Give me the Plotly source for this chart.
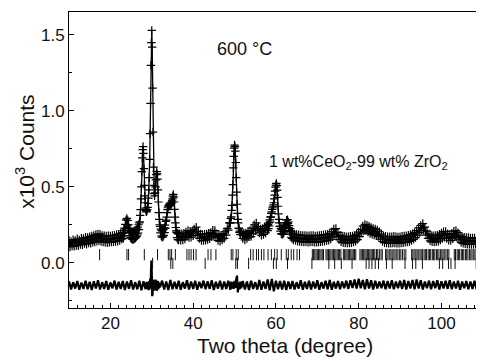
import numpy as np
import plotly.graph_objects as go

# ---------------- observed pattern (x10^3 counts), segments of the 2-theta scan ----------------
obs_a_start, obs_a_step = 10.0, 0.25
obs_a = [.148, .104, .140, .110, .152, .108, .146, .114, .158, .112, .150, .120, .162, .118, .160, .126,
         .168, .122, .166, .130, .172, .128, .176, .134, .180, .136, .186, .142, .190, .144, .188, .140,
         .180, .136, .178, .134, .176, .132, .178, .134, .176, .136, .180, .138, .182, .140, .186, .142,
         .188, .146, .194, .156]

obs_b_start, obs_b_step = 23.0, 0.1
obs_b = [.198, .160, .212, .176, .228, .195, .252, .225, .282, .250,
         .292, .248, .278, .225, .250, .198, .228, .178, .212, .165,
         .205, .158, .200, .155, .198, .152, .200, .156, .204, .160,
         .208, .165, .214, .172, .222, .182, .235, .195, .250, .218,
         .262, .270, .312, .350, .420, .500, .600, .690, .745, .765,
         .720, .620, .510, .440, .395, .360, .345, .335, .340, .350,
         .365, .390, .425, .480, .560, .680, .850, 1.050, 1.300, 1.450,
         1.530, 1.420, 1.150, .860, .630, .510, .455, .440, .460, .500,
         .545, .580, .600, .585, .550, .480, .400, .330, .285, .250,
         .240, .196, .222, .176, .212, .168, .210, .170, .218, .180,
         .230, .198, .248, .228, .272, .280, .300, .330, .350, .362,
         .375, .372, .385, .378, .392, .384, .380, .388, .395, .408,
         .420, .438, .450, .432, .400, .352, .300, .262, .232, .210,
         .200, .165, .195, .152, .190]

obs_c_start, obs_c_step = 36.5, 0.25
obs_c = [.150, .192, .148, .192, .150, .194, .156, .202, .172, .212,
         .166, .208, .168, .210, .178, .222, .196, .234, .180, .206,
         .160, .190, .146, .186, .146, .188, .148, .190, .152, .194,
         .158, .200, .170, .214, .176, .212, .166, .190, .146, .184,
         .142, .182, .150, .192, .160, .204, .182, .226, .215, .262]

obs_d_start, obs_d_step = 48.9, 0.1
obs_d = [.262, .262, .292, .302, .345, .378, .445, .515, .625, .700,
         .755, .775, .765, .735, .660, .560, .465, .385, .325, .285,
         .262, .228, .225, .200, .208, .185, .198]

obs_e_start, obs_e_step = 51.75, 0.25
obs_e = [.202, .160, .194, .150, .196, .160, .206, .170, .212, .172,
         .228, .190, .250, .210, .262, .222, .238, .196, .222, .180,
         .226, .186, .236, .196, .244]

obs_f_start, obs_f_step = 57.9, 0.1
obs_f = [.245, .212, .252, .225, .262, .242, .282, .268, .302, .300, .325,
         .335, .352, .362, .372, .382, .395, .420, .445, .472, .498,
         .512, .522, .508, .478, .430, .372, .322, .285, .262, .240,
         .240, .208, .226, .192, .220, .186, .222, .190, .226, .196,
         .232, .212, .248, .232, .262, .250, .280, .262, .284, .258,
         .268, .230, .244, .205, .225, .186, .210, .168, .204, .160]

obs_g_start, obs_g_step = 64.0, 0.25
obs_g = [.195, .150, .190, .146, .186, .142, .184, .140, .182, .138, .180, .136,
         .180, .138, .178, .134, .178, .136, .180, .138, .180, .135, .176, .134,
         .178, .136, .180, .138, .182, .140, .184, .142, .186, .146, .188, .148,
         .194, .156, .204, .170, .222, .185, .225, .172, .200, .152, .182, .138,
         .176, .132, .174, .130, .172, .130, .172, .130, .174, .132, .176, .136,
         .180, .142, .188, .152, .202, .172, .220, .195, .242, .210, .252, .212,
         .248, .202, .240, .192, .232, .188, .226, .182, .222, .178, .216, .172,
         .204, .156, .188, .140, .176, .132, .174, .130, .172, .128, .172, .128,
         .172, .130, .174, .130, .172, .128, .170, .128, .172, .130, .174, .132,
         .176, .134, .178, .136, .182, .140, .186, .146, .192, .154, .200, .166,
         .212, .182, .230, .198, .246, .214, .258, .212, .234, .182, .208, .160,
         .190, .144, .180, .138, .178, .136, .180, .138, .182, .142, .188, .150,
         .196, .160, .205, .168, .206, .160, .192, .148, .186, .146, .194, .158,
         .208, .170, .212, .166, .198, .150, .182, .134, .172, .128, .168, .124,
         .166, .122, .166, .122, .164, .120, .164, .120, .164, .122, .166, .120,
         .164, .120, .162]

# ---------------- difference curve (obs - calc, offset) ----------------
diff_a_start, diff_a_step = 10.0, 0.5
diff_a = [-.122, -.176, -.128, -.170, -.120, -.178, -.130, -.172, -.118, -.174,
          -.126, -.180, -.122, -.170, -.116, -.176, -.128, -.172, -.120, -.178,
          -.130, -.168, -.118, -.176, -.126, -.172, -.120, -.180, -.124, -.172,
          -.116, -.176, -.128, -.174, -.118, -.182, -.122, -.174]
diff_b_start, diff_b_step = 28.6, 0.1
diff_b = [-.130, -.168, -.125, -.172, -.135, -.175, -.128, -.180, -.120, -.175,
          -.105, -.170, -.060, .015, -.060, -.220, -.205, -.110, -.185, -.115,
          -.180, -.120, -.175, -.110, -.178, -.115, -.185, -.125, -.170, -.120,
          -.175, -.130, -.165, -.135, -.160]
diff_c_start, diff_c_step = 32.5, 0.5
diff_c = [-.118, -.176, -.124, -.180, -.114, -.174, -.126, -.172, -.118, -.178,
          -.128, -.170, -.116, -.176, -.124, -.172, -.118, -.178, -.126, -.168,
          -.118, -.174, -.122, -.172, -.116, -.180, -.126, -.170, -.118, -.176,
          -.124, -.172, -.118, -.178]
diff_d_start, diff_d_step = 49.2, 0.2
diff_d = [-.125, -.170, -.128, -.172, -.120, -.165, -.110, -.085, -.195, -.130,
          -.175, -.125, -.168, -.135]
diff_e_start, diff_e_step = 52.0, 0.5
diff_e = [-.120, -.176, -.124, -.180, -.118, -.172, -.128, -.176, -.114, -.178,
          -.124, -.172, -.110, -.182, -.106, -.188, -.118, -.174, -.120, -.176,
          -.118, -.180, -.124, -.172, -.120, -.176, -.128, -.170, -.116, -.178,
          -.126, -.172, -.118, -.176, -.124, -.170, -.116, -.178, -.128, -.170,
          -.118, -.174, -.114, -.178, -.126, -.170, -.120, -.174, -.124, -.168,
          -.118, -.172, -.116, -.166, -.110, -.170, -.106, -.168, -.114, -.174,
          -.108, -.170, -.116, -.176, -.118, -.170, -.124, -.168, -.118, -.174,
          -.120, -.170, -.116, -.174, -.124, -.168, -.118, -.172, -.114, -.176,
          -.120, -.170, -.114, -.174, -.110, -.170, -.116, -.176, -.124, -.168,
          -.118, -.174, -.120, -.168, -.116, -.176, -.122, -.170, -.118, -.172,
          -.116, -.174, -.124, -.170, -.118, -.178, -.124, -.168, -.120, -.174,
          -.124, -.172, -.118, -.176, -.126, -.170]

# ---------------- Bragg reflection positions (2-theta) ----------------
bragg_row1 = [17.4, 24.0, 24.4, 28.2, 31.4, 34.0, 34.4, 34.8, 35.7, 38.5, 39.0, 39.5, 40.1, 40.7,
              43.6, 44.3, 45.5, 49.2, 49.6, 50.4, 50.9, 53.9, 54.5, 55.3, 55.8, 56.5, 57.1,
              58.1, 58.9, 59.7, 60.3, 61.3, 62.5, 63.0, 63.7, 64.3, 65.1, 65.7,
              68.8, 69.1, 69.4, 69.7, 70.0, 70.3, 70.6, 70.9, 71.2, 71.5, 72.1, 72.4, 72.7,
              73.0, 73.3, 73.6, 73.9, 74.2, 74.5, 74.8, 75.1, 75.4, 75.7, 76.3, 76.6, 76.9,
              77.2, 77.5, 77.8, 78.1, 78.4, 78.7, 79.0, 79.3,
              80.3, 80.6, 80.9, 81.2, 81.5, 81.8, 82.1, 82.4, 82.7, 83.0, 83.3, 83.6, 83.9,
              84.3, 84.6, 85.0, 85.4, 85.7,
              86.5, 86.8, 87.1, 87.5, 87.8, 88.1, 88.5, 88.8, 89.2, 89.5, 89.9, 90.2, 90.6,
              91.0, 91.4,
              92.8, 93.1, 93.4, 93.8, 94.1, 94.4, 94.8, 95.1, 95.4, 95.8, 96.1, 96.4, 96.8,
              97.1, 97.4, 97.8, 98.1, 98.4, 98.8, 99.1, 99.4, 99.8, 100.1, 100.4, 100.8,
              101.1, 101.5, 101.8,
              103.1, 103.4, 103.8, 104.1, 104.4, 104.8, 105.1, 105.4, 105.8, 106.1, 106.4,
              106.8, 107.1, 107.4, 107.8, 108.1, 108.4, 108.8, 109.1, 109.4, 109.7]
bragg_row2 = [30.2, 34.6, 35.1, 42.9, 50.3, 50.7, 53.4, 59.4, 60.1, 62.8, 68.7, 72.8, 74.2, 75.8,
              78.4, 81.8, 82.5, 83.2, 84.0, 84.8, 86.7, 88.1, 91.2, 93.0, 93.8, 95.4, 99.5,
              100.3, 101.7, 102.3, 103.3, 108.4]
bragg_row1_level = 0.053
bragg_row2_level = -0.004

x_ticks = [20, 40, 60, 80, 100]
y_ticks = [0.0, 0.5, 1.0, 1.5]


def build(segments):
    xs, ys = [], []
    for start, step, vals in segments:
        xs.append(np.round(start + step * np.arange(len(vals)), 3))
        ys.append(np.asarray(vals, dtype=float))
    return np.concatenate(xs), np.concatenate(ys)


tt_obs, counts_obs = build([(obs_a_start, obs_a_step, obs_a), (obs_b_start, obs_b_step, obs_b),
                            (obs_c_start, obs_c_step, obs_c), (obs_d_start, obs_d_step, obs_d),
                            (obs_e_start, obs_e_step, obs_e), (obs_f_start, obs_f_step, obs_f),
                            (obs_g_start, obs_g_step, obs_g)])
tt_diff, counts_diff = build([(diff_a_start, diff_a_step, diff_a), (diff_b_start, diff_b_step, diff_b),
                              (diff_c_start, diff_c_step, diff_c), (diff_d_start, diff_d_step, diff_d),
                              (diff_e_start, diff_e_step, diff_e)])

FONT = "Liberation Sans, Arial, Helvetica, sans-serif"
INK = "#111111"

fig = go.Figure()
fig.add_trace(go.Scatter(
    x=tt_obs, y=counts_obs, mode="lines+markers",
    line=dict(color="black", width=1.3),
    marker=dict(symbol="cross-thin", size=6, line=dict(color="black", width=1.2), color="black"),
    showlegend=False, hoverinfo="skip"))
fig.add_trace(go.Scatter(
    x=tt_diff, y=counts_diff, mode="lines",
    line=dict(color="black", width=2.2), showlegend=False, hoverinfo="skip"))
fig.add_trace(go.Scatter(
    x=bragg_row1, y=[bragg_row1_level] * len(bragg_row1), mode="markers",
    marker=dict(symbol="line-ns", size=8, line=dict(color=INK, width=1)),
    showlegend=False, hoverinfo="skip"))
fig.add_trace(go.Scatter(
    x=bragg_row2, y=[bragg_row2_level] * len(bragg_row2), mode="markers",
    marker=dict(symbol="line-ns", size=8, line=dict(color=INK, width=1)),
    showlegend=False, hoverinfo="skip"))

axis_common = dict(showline=True, linecolor="black", linewidth=1, mirror=True,
                   ticks="inside", ticklen=5, tickwidth=1, tickcolor="black",
                   showgrid=False, zeroline=False,
                   tickfont=dict(family=FONT, size=17, color=INK))

fig.update_xaxes(range=[10, 109.8], tickvals=x_ticks,
                 minor=dict(ticks="inside", ticklen=3, dtick=2, tick0=0, tickcolor="black", showgrid=False),
                 **axis_common)
fig.update_yaxes(range=[-0.298, 1.651], tickvals=y_ticks, tickformat=".1f",
                 minor=dict(ticks="inside", ticklen=3, dtick=0.25, tick0=0, tickcolor="black", showgrid=False),
                 **axis_common)

# the page body has an 8 px margin, so the figure is 8 px smaller and its margins shifted
fig.update_layout(
    width=476, height=353,
    margin=dict(l=61, r=2, t=4, b=53),
    paper_bgcolor="white", plot_bgcolor="white",
    font=dict(family=FONT, color=INK),
    annotations=[
        dict(text="Two theta (degree)", xref="paper", yref="paper", x=0.522, y=-0.125,
             xanchor="center", yanchor="middle", showarrow=False,
             font=dict(family=FONT, size=21, color=INK)),
        dict(text="x10<sup>3</sup> Counts", xref="paper", yref="paper", x=-0.107, y=0.527,
             xanchor="center", yanchor="middle", textangle=-90, showarrow=False,
             font=dict(family=FONT, size=21, color=INK)),
        dict(text="600 °C", xref="paper", yref="paper", x=0.4245, y=0.875,
             xanchor="center", yanchor="middle", showarrow=False,
             font=dict(family=FONT, size=18, color=INK)),
        dict(text="1 wt%CeO<sub>2</sub>-99 wt% ZrO<sub>2</sub>", xref="paper", yref="paper",
             x=0.479, y=0.49, xanchor="left", yanchor="middle", showarrow=False,
             font=dict(family=FONT, size=16, color=INK)),
    ],
)

fig.write_html("out.html")
